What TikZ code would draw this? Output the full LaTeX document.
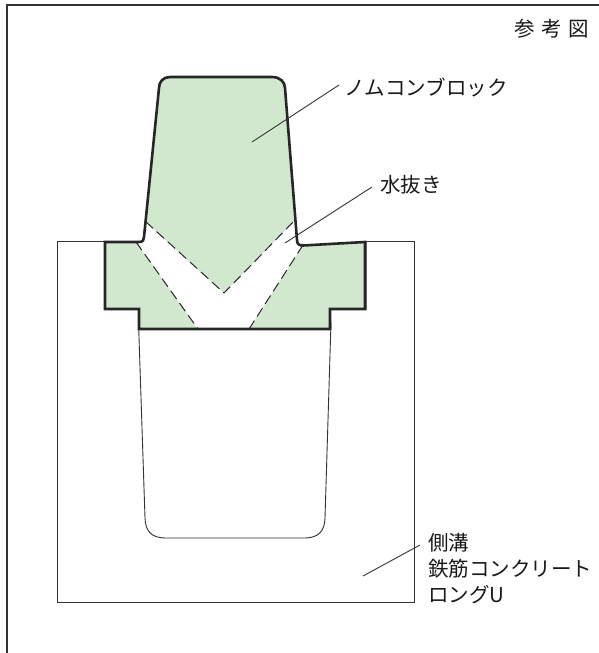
\documentclass[tikz,border=0pt]{standalone}
\usepackage{fontspec}
\setmainfont{Noto Sans CJK JP}
\definecolor{blockgreen}{HTML}{D1E8CF}
\definecolor{inkgray}{HTML}{333333}
\tikzset{
  thinline/.style={inkgray, line width=0.9pt},
  blockline/.style={black!85, line width=2.6pt, line join=miter},
  hole/.style={black!85, line width=1pt, dash pattern=on 10pt off 5pt},
  lbl/.style={anchor=west, inner sep=0pt, text=black!90, font=\fontsize{20.5}{25.7}\selectfont, align=left}
}
\begin{document}
\begin{tikzpicture}[x=1pt, y=-1pt]
  \useasboundingbox (0,0) rectangle (599,653);
  % frame
  \draw [thinline, line width=1.2pt] (7,653) -- (7,5) -- (599,5);
  % channel
  \draw [thinline] (105,241) -- (57,241) -- (57,602) -- (414,602) -- (414,241) -- (364,241);
  \draw [thinline] (138.5,322) -- (145,518) .. controls (145.5,531) and (151,538) .. (166,538)
    -- (304,538) .. controls (319,538) and (324.5,531) .. (325,518) -- (331,322);
  % green parts
  \fill [blockgreen] (170,77) -- (272,77) .. controls (280,77) and (285,82) .. (285,88)
    -- (294,221) -- (224,293) -- (145.5,221.5) -- (159,88) .. controls (159,82) and (163,77) .. (170,77) -- cycle;
  \fill [blockgreen] (105,242) -- (136,242) -- (198,329) -- (139,329) -- (139,309) -- (105,309) -- cycle;
  \fill [blockgreen] (303,245) -- (365,242) -- (365,309) -- (330,309) -- (330,329) -- (249,329) -- cycle;
  % dashed edges
  \draw [hole] (145.5,221.5) -- (224,293) -- (294,221);
  \draw [hole] (136,242) -- (198,329);
  \draw [hole] (303,245) -- (249,329);
  % outline
  \draw [thinline, gray] (366.5,242) -- (366.5,310);
  \draw [blockline] (105,242) -- (139,242) .. controls (143,242) and (144,240) .. (144,237)
    -- (159,88) .. controls (159,82) and (163,77) .. (170,77) -- (272,77)
    .. controls (280,77) and (285,82) .. (285,88) -- (297,240) .. controls (297,244) and (299,245.5) .. (303,245.5)
    -- (365,242) -- (365,309) -- (330,309) -- (330,329) -- (139,329) -- (139,309) -- (105,309) -- cycle;
  % labels
  \node [lbl] (title) at (514,29) {参\hspace{6.5pt}考\hspace{6.5pt}図};
  \node [lbl] (blocklbl) at (344,87) {ノムコンブロック};
  \node [lbl] (drainlbl) at (380,185) {水抜き};
  \node [lbl] (channellbl) at (428,568.5) {側溝\\鉄筋コンクリート\\ロングU};
  % leaders
  \coordinate (blocka) at (252,142);
  \coordinate (blockb) at (339,85);
  \coordinate (draina) at (285,243);
  \coordinate (drainb) at (372,187);
  \coordinate (channela) at (363,576);
  \coordinate (channelb) at (420,545);
  \draw [thinline] (blocka) -- (blockb);
  \draw [thinline] (draina) -- (drainb);
  \draw [thinline] (channela) -- (channelb);
\end{tikzpicture}
\end{document}
